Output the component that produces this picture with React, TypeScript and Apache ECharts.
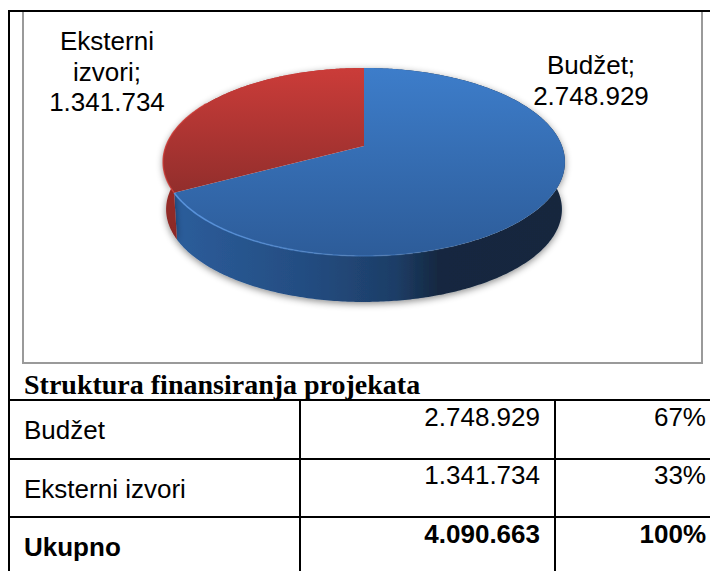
import React, { useEffect, useRef } from "react";
import * as echarts from "echarts";

const sliceNames = ["Budžet", "Eksterni izvori"];
const pieLabelNames = ["Budžet;", "Eksterni\nizvori;"];
const sliceValues = [2748929, 1341734];
const sliceValueLabels = ["2.748.929", "1.341.734"];
const tableTitle = "Struktura finansiranja projekata";
const rowNames = ["Budžet", "Eksterni izvori", "Ukupno"];
const rowAmounts = ["2.748.929", "1.341.734", "4.090.663"];
const rowShares = ["67%", "33%", "100%"];

const W = 710, H = 571;
const CX = 364, APEX_Y = 146, RX = 198, RY = 91.3, K = -0.17;
const DEPTH = 47.6, WALL_SCALE = 0.985;
const total = sliceValues.reduce((a, b) => a + b, 0);

const project = (phiDeg: number): [number, number] => {
  const p = (phiDeg * Math.PI) / 180;
  const u = Math.sin(p), v = -Math.cos(p), w = 1 + K * v;
  return [CX + (RX * u) / w, APEX_Y + (RY * v) / w];
};
const rimBottom = (phiDeg: number): [number, number] => {
  const [x, y] = project(phiDeg);
  return [CX + (x - CX) * WALL_SCALE, APEX_Y + (y - APEX_Y) * WALL_SCALE + DEPTH];
};
const arc = (a: number, b: number, fn = project) => {
  const n = Math.max(2, Math.ceil(Math.abs(b - a) * 1.5));
  const out: [number, number][] = [];
  for (let i = 0; i <= n; i++) out.push(fn(a + ((b - a) * i) / n));
  return out;
};
const sliceRange = (idx: number): [number, number] => {
  let start = 0;
  for (let i = 0; i < idx; i++) start += (sliceValues[i] / total) * 360;
  return [start, start + (sliceValues[idx] / total) * 360];
};
const grad = (x2: number, y2: number, stops: [number, string][]) => ({
  type: "linear", x: 0, y: 0, x2, y2,
  colorStops: stops.map(([offset, color]) => ({ offset, color })),
});

const wallFills = [
  grad(1, 0, [[0, "#2c5d9b"], [0.35, "#234c80"], [0.57, "#1d3d66"], [0.68, "#14273f"], [1, "#13253e"]]),
  grad(0, 1, [[0, "#b5322f"], [1, "#8a2825"]]),
];
const topFills = [
  grad(0, 1, [[0, "#3d7dca"], [1, "#2d5c99"]]),
  grad(0, 1, [[0, "#cb3c39"], [1, "#922e2c"]]),
];
const labelPos: [number, number][] = [[591, 50], [107, 26]];

const renderWall = (params: any) => {
  const [a, b] = sliceRange(params.dataIndex);
  const pts = [...arc(a, b), ...arc(b, a, rimBottom)];
  return {
    type: "polygon",
    shape: { points: pts },
    style: {
      fill: wallFills[params.dataIndex],
      shadowBlur: 7,
      shadowColor: "rgba(0,0,0,0.45)",
      shadowOffsetY: 2,
    },
  };
};

const renderTop = (params: any, api: any) => {
  const i = params.dataIndex;
  const [a, b] = sliceRange(i);
  const pts = [[CX, APEX_Y], ...arc(a, b)];
  const children: any[] = [
    { type: "polygon", shape: { points: pts }, style: { fill: topFills[i] } },
  ];
  if (i === 0) {
    children.push({
      type: "polyline",
      shape: { points: arc(b, 150) },
      style: {
        fill: "none", lineWidth: 1.6,
        stroke: grad(1, 0, [[0, "rgba(90,150,225,0.9)"], [1, "rgba(90,150,225,0)"]]),
      },
    });
  } else {
    children.push({
      type: "polyline",
      shape: { points: arc(a, 300) },
      style: { fill: "none", lineWidth: 1.4, stroke: "rgba(205,60,55,0.8)" },
    });
  }
  children.push({
    type: "text",
    style: {
      text: `${pieLabelNames[i]}\n${sliceValueLabels[i]}`,
      x: labelPos[i][0], y: labelPos[i][1],
      align: "center", verticalAlign: "top", lineHeight: 30.5,
      font: "26px 'Liberation Sans', Arial, sans-serif", fill: "#000",
    },
  });
  return { type: "group", children };
};

const rule = (x1: number, y1: number, x2: number, y2: number, stroke = "#000", lineWidth = 2) => ({
  type: "line", shape: { x1, y1, x2, y2 }, style: { stroke, lineWidth },
});
const label = (text: string, x: number, y: number, align: string, weight = "normal") => ({
  type: "text",
  style: {
    text, x, y: y - 9, align, verticalAlign: "middle",
    font: `${weight} 26px 'Liberation Sans', Arial, sans-serif`, fill: "#000",
  },
});

const rowLines = [400, 459, 517];
const rowBaselines = [439, 498, 556];
const valueBaselines = [426, 484, 543];

export default function App() {
  const ref = useRef<HTMLDivElement>(null);
  useEffect(() => {
    document.body.style.margin = "0";
    const chart = echarts.init(ref.current!, null, { renderer: "svg" });
    const data = sliceNames.map((name, i) => ({ name, value: sliceValues[i] }));
    const elements: any[] = [
      { type: "rect", shape: { x: 23, y: 11, width: 679, height: 352 }, style: { fill: "#fff", stroke: "#9a9a9a", lineWidth: 2 }, z: -1 },
      rule(8, 11, W, 11),
      rule(9, 10, 9, H),
      { type: "text", style: { text: tableTitle, x: 24, y: 384, align: "left", verticalAlign: "middle", font: "bold 28px 'Liberation Serif', serif", fill: "#000" } },
      ...rowLines.map((y) => rule(8, y, W, y)),
      rule(300, 400, 300, H),
      rule(555, 400, 555, H),
    ];
    rowNames.forEach((n, i) => {
      const w = i === 2 ? "bold" : "normal";
      elements.push(label(n, 24, rowBaselines[i], "left", w));
      elements.push(label(rowAmounts[i], 540, valueBaselines[i], "right", w));
      elements.push(label(rowShares[i], 706, valueBaselines[i], "right", w));
    });
    chart.setOption({
      animation: false,
      backgroundColor: "#fff",
      graphic: { elements },
      series: [
        { type: "custom", coordinateSystem: "none", renderItem: renderWall, data, z: 1, silent: true },
        { type: "custom", coordinateSystem: "none", renderItem: renderTop, data, z: 2, silent: true },
      ],
    });
    return () => chart.dispose();
  }, []);
  return <div ref={ref} style={{ width: W, height: H }} />;
}
